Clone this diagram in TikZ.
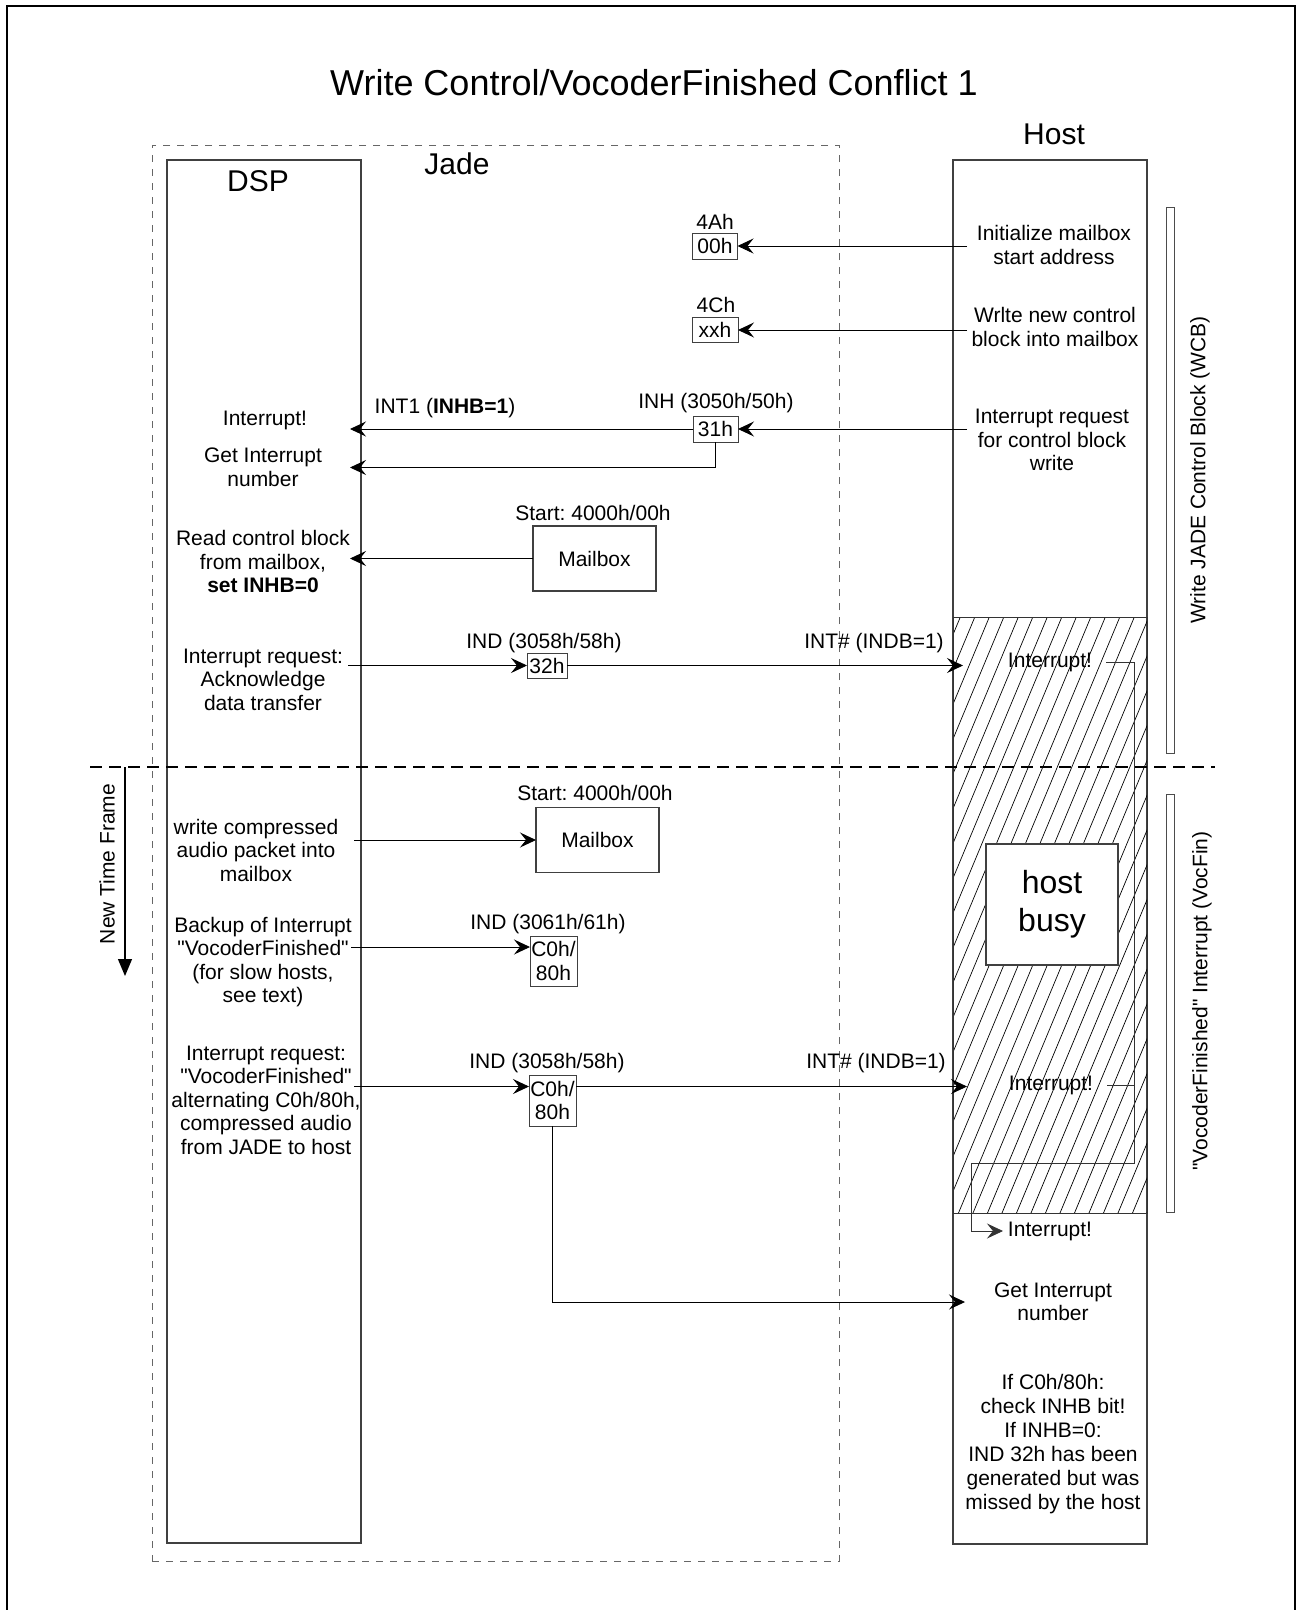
\documentclass[tikz,border=0pt]{standalone}
\usepackage{fontspec}
\setmainfont{Liberation Sans}[Ligatures=TeXOff]
\usetikzlibrary{arrows.meta}
\frenchspacing
\begin{document}
\begin{tikzpicture}[x=1pt,y=-1pt,
  every node/.style={inner sep=0pt, outer sep=0pt},
  txt/.style={align=center, font=\fontsize{21}{23.5}\selectfont},
  big/.style={font=\fontsize{30}{34}\selectfont},
  lane/.style={draw=black!75, line width=1.1pt},
  reg/.style={draw=black!75, line width=0.9pt, fill=white, align=center, font=\fontsize{21}{23.5}\selectfont},
  mbox/.style={draw=black!75, line width=1.1pt, fill=white, font=\fontsize{21}{23.5}\selectfont, minimum width=123pt, minimum height=65pt},
  sig/.style={line width=0.9pt, -{Stealth[length=16pt,width=15pt,inset=6pt]}},
  thinwire/.style={line width=0.8pt, draw=black!80},
  bar/.style={draw=black!70, line width=0.8pt, fill=white, minimum width=8pt},
]
\useasboundingbox (0,0) rectangle (1298,1610);
\fill[white] (0,0) rectangle (1298,1610);
\draw[line width=2pt] (7,1615) -- (7,6) -- (1295,6) -- (1295,1615);

% title and lanes
\node[font=\fontsize{36}{42}\selectfont] (title) at (654,83) {Write Control/VocoderFinished Conflict 1};
\node[draw=black!60, dash pattern=on 7pt off 7pt, line width=0.9pt, minimum width=687pt, minimum height=1416pt] (jade) at (495.5,853) {};
\node[lane, minimum width=194pt, minimum height=1383pt] (dsp) at (264,851.5) {};
\node[lane, minimum width=194pt, minimum height=1384pt] (host) at (1050,852) {};
\node[big] (dsplbl) at (258,181) {DSP};
\node[big] (jadelbl) at (457,164) {Jade};
\node[big] (hostlbl) at (1054,134) {Host};

% hatched busy zone
\node[minimum width=194pt, minimum height=596pt] (hz) at (1050,915) {};
\begin{scope}
\clip (hz.south west) rectangle (hz.north east);
\foreach \i in {0,...,34} \draw[line width=0.7pt] (683+\i*14.5,1213) -- ++(250,-600);
\end{scope}
\draw[line width=0.9pt, black!80] (hz.north west) rectangle (hz.south east);
\node[reg, font=\fontsize{32}{38}\selectfont, minimum width=132pt, minimum height=121pt, line width=1.1pt] (busy) at (1052,904.5) {host\\busy};

% side bars
\node[bar, minimum height=546pt] (bar1) at (1170,480) {};
\node[bar, minimum height=418pt] (bar2) at (1170,1003) {};
\node[txt, rotate=90] (wcb) at (1200,470) {Write JADE Control Block (WCB)};
\node[txt, rotate=90] (vocfin) at (1202,1001) {"VocoderFinished" Interrupt (VocFin)};

% separator and time arrow
\coordinate (sepL) at (90,767);
\coordinate (sepR) at (1215,767);
\draw[line width=1.5pt, dash pattern=on 12pt off 7pt] (sepL) -- (sepR);
\coordinate (ntfA) at (125,767);
\coordinate (ntfB) at (125,976);
\draw[line width=1.2pt, -{Triangle[length=17pt,width=14pt]}] (ntfA) -- (ntfB);
\node[txt, rotate=90] (ntf) at (107,864) {New Time Frame};

% host texts
\node[txt] (h1) at (1054,245) {Initialize mailbox\\start address};
\node[txt] (h2) at (1055,327) {Wrlte new control\\block into mailbox};
\node[txt] (h3) at (1052,440) {Interrupt request\\for control block\\write};
\node[txt] (hi1) at (1050,662) {Interrupt!};
\node[txt] (hi2) at (1051,1085) {Interrupt!};
\node[txt] (hi3) at (1050,1231) {Interrupt!};
\node[txt] (h4) at (1053,1302) {Get Interrupt\\number};
\node[txt, font=\fontsize{21}{24}\selectfont] (h5) at (1053,1444) {If C0h/80h:\\check INHB bit!\\If INHB=0:\\IND 32h has been\\generated but was\\missed by the host};

% jade registers
\node[txt] (l4a) at (715,222) {4Ah};
\node[reg, minimum width=45pt, minimum height=26pt] (b00) at (715,246) {00h};
\node[txt] (l4c) at (716,305) {4Ch};
\node[reg, minimum width=46pt, minimum height=25pt] (bxx) at (715,330) {xxh};
\node[txt] (linh) at (716,403) {INH (3050h/50h)};
\node[reg, minimum width=45pt, minimum height=26pt] (b31) at (715.5,429) {31h};
\node[txt] (lint1) at (445,408) {INT1 (\textbf{INHB=1})};
\node[txt] (lst1) at (593,513) {Start: 4000h/00h};
\node[mbox] (mb1) at (594.5,558.5) {Mailbox};
\node[txt] (lind1) at (544,643) {IND (3058h/58h)};
\node[reg, minimum width=40pt, minimum height=25pt] (b32) at (547,665.5) {32h};
\node[txt] (lintn1) at (874,643) {INT\# (INDB=1)};
\node[txt] (lst2) at (595,793) {Start: 4000h/00h};
\node[mbox] (mb2) at (597.5,840) {Mailbox};
\node[txt] (lind2) at (548,924) {IND (3061h/61h)};
\node[reg, minimum width=47pt, minimum height=50pt] (cb1) at (553.5,961) {C0h/\\80h};
\node[txt] (lind3) at (547,1063) {IND (3058h/58h)};
\node[reg, minimum width=47pt, minimum height=51pt] (cb2) at (552.5,1100.5) {C0h/\\80h};
\node[txt] (lintn2) at (876,1063) {INT\# (INDB=1)};

% dsp texts
\node[txt] (d1) at (265,420) {Interrupt!};
\node[txt] (d2) at (263,467.5) {Get Interrupt\\number};
\node[txt] (d3) at (263,561.5) {Read control block\\from mailbox,\\\textbf{set INHB=0}};
\node[txt] (d4) at (263,679.5) {Interrupt request:\\Acknowledge\\data transfer};
\node[txt] (d5) at (256,850) {write compressed\\audio packet into\\mailbox};
\node[txt] (d6) at (263,962) {Backup of Interrupt\\"VocoderFinished"\\(for slow hosts,\\see text)};
\node[txt] (d7) at (266,1100) {Interrupt request:\\"VocoderFinished"\\alternating C0h/80h,\\compressed audio\\from JADE to host};

% connectors
\draw[sig] ([xshift=14pt]host.west |- b00.east) -- (b00.east);
\draw[sig] ([xshift=14pt]host.west |- bxx.east) -- (bxx.east);
\draw[sig] ([xshift=14pt]host.west |- b31.east) -- (b31.east);
\draw[sig] (b31.west) -- ([xshift=-11pt]dsp.east |- b31.west);
\draw[sig] (b31.south) |- ([xshift=-11pt]dsp.east |- d2.center);
\draw[sig] (mb1.west) -- ([xshift=-11pt]dsp.east |- mb1.west);
\draw[sig] ([xshift=-13pt]dsp.east |- b32.west) -- (b32.west);
\draw[sig] (b32.east) -- ([xshift=10pt]host.west |- b32.east);
\draw[sig] ([xshift=-7pt]dsp.east |- mb2.west) -- (mb2.west);
\draw[sig] ([xshift=-10pt,yshift=14pt]dsp.east |- cb1.west) -- ([yshift=14pt]cb1.west);
\draw[sig] ([xshift=-7pt,yshift=14pt]dsp.east |- cb2.west) -- ([yshift=14pt]cb2.west);
\draw[sig] ([yshift=14pt]cb2.east) -- ([xshift=14pt,yshift=14pt]host.west |- cb2.east);
\draw[sig] (cb2.south) |- ([xshift=12pt]host.west |- h4.center);

% host interrupt loop
\coordinate (loopTR) at (1134,662);
\coordinate (loopBR) at (1134,1163);
\coordinate (loopBL) at (971,1163);
\draw[thinwire, -{Stealth[length=16pt,width=15pt,inset=6pt]}] ([xshift=14pt]hi1.east) -- (loopTR) -- (loopBR) -- (loopBL) |- ([xshift=-5pt]hi3.west);
\draw[thinwire] ([xshift=14pt]hi2.east) -- (loopTR |- hi2.east);
\end{tikzpicture}
\end{document}
